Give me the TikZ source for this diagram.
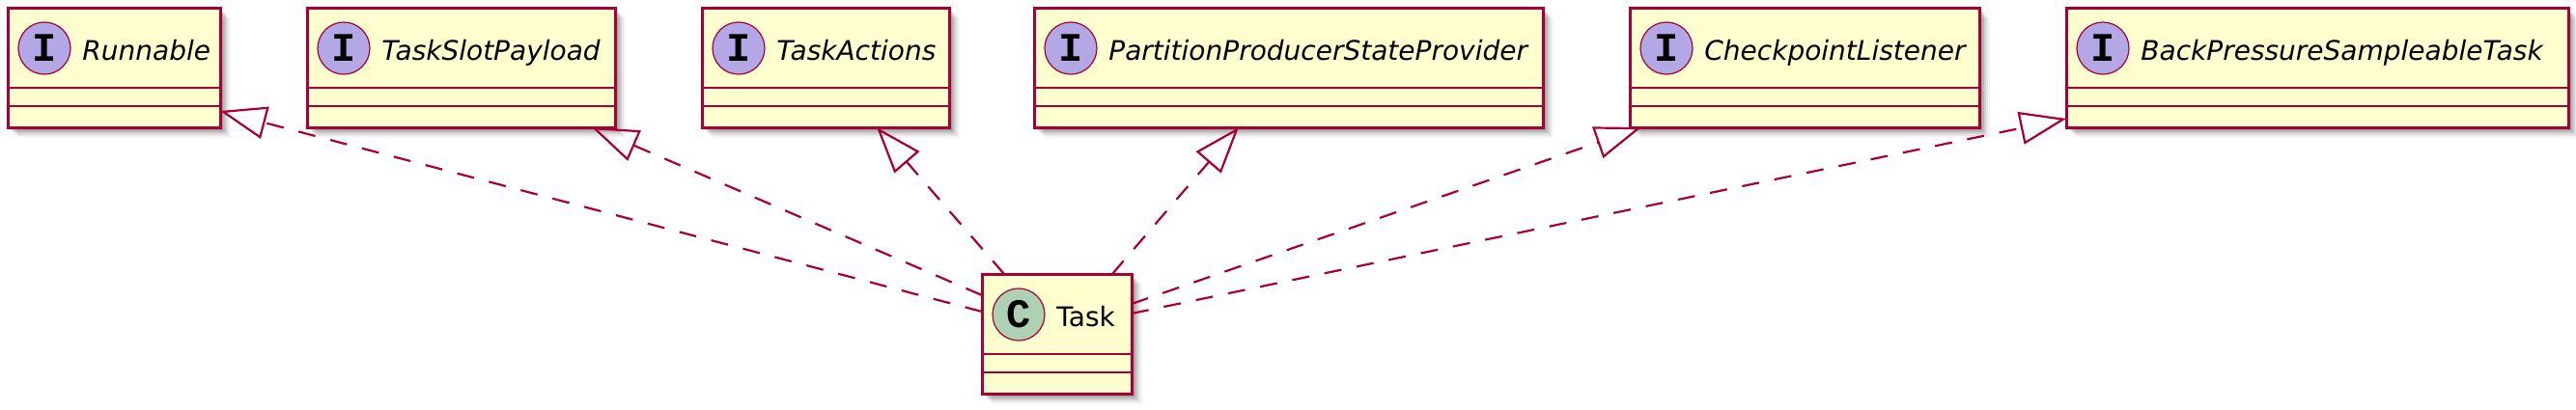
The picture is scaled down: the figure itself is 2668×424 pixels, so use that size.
\documentclass[tikz,border=0pt]{standalone}
\usepackage{fontspec}
\setmainfont{DejaVu Sans}
\newfontfamily\spotfont{Liberation Mono}
\usetikzlibrary{arrows.meta,calc}
\definecolor{umlborder}{RGB}{168,0,54}
\definecolor{umlfill}{RGB}{254,254,206}
\definecolor{ifacespot}{RGB}{180,167,229}
\definecolor{classspot}{RGB}{173,209,178}
\tikzset{
  umlbox/.style={draw=umlborder, fill=umlfill, line width=1.5pt, rectangle, inner sep=0pt, outer sep=0pt},
  sepline/.style={draw=umlborder, line width=1.1pt},
  spot/.style={circle, draw=umlborder, line width=0.6pt, minimum size=27pt, inner sep=0pt,
    font=\spotfont\bfseries\fontsize{21}{21}\selectfont},
  ifacelabel/.style={font=\itshape\fontsize{14}{16}\selectfont, anchor=base west, inner sep=0pt},
  classlabel/.style={font=\fontsize{14}{16}\selectfont, anchor=base west, inner sep=0pt},
  realize/.style={draw=umlborder, line width=1.1pt, dash pattern=on 9pt off 8pt,
    -{Triangle[open, length=24pt, width=17pt]}},
}
% #1 name, #2 left, #3 right, #4 top, #5 letter, #6 spot colour, #7 label style, #8 text
\newcommand\umlclass[8]{%
  \pgfmathsetmacro\ucw{(#3-#2)*0.5}%
  \pgfmathsetmacro\ucx{(#2+#3)/2}%
  \pgfmathsetmacro\ucy{#4+62}%
  \foreach \s/\o in {3/0.14,5/0.12,7/0.09,9/0.06,11/0.04}{%
    \fill[black,opacity=\o] (#2+\s,#4+\s) rectangle (#3+\s,#4+124+\s);}
  \node[umlbox, minimum width=\ucw pt, minimum height=62pt] (#1) at (\ucx,\ucy) {};
  \draw[sepline] ($(#1.north west)+(0,83)$) -- ($(#1.north east)+(0,83)$);
  \draw[sepline] ($(#1.north west)+(0,102)$) -- ($(#1.north east)+(0,102)$);
  \node[spot, fill=#6] (#1-spot) at ($(#1.north west)+(38,42)$) {#5};
  \node[#7] (#1-label) at ($(#1.north west)+(77,54)$) {#8};
}
\begin{document}
\begin{tikzpicture}[x=0.5pt, y=-0.5pt]
\useasboundingbox (0,0) rectangle (2668,424);
\umlclass{runnable}{8}{228}{8}{I}{ifacespot}{ifacelabel}{Runnable}
\umlclass{tsp}{318}{637}{8}{I}{ifacespot}{ifacelabel}{TaskSlotPayload}
\umlclass{ta}{727}{983}{8}{I}{ifacespot}{ifacelabel}{TaskActions}
\umlclass{ppsp}{1071}{1598}{8}{I}{ifacespot}{ifacelabel}{PartitionProducerStateProvider}
\umlclass{cl}{1688}{2050}{8}{I}{ifacespot}{ifacelabel}{CheckpointListener}
\umlclass{bp}{2140}{2660}{8}{I}{ifacespot}{ifacelabel}{BackPressureSampleableTask}
\umlclass{task}{1017}{1172}{284}{C}{classspot}{classlabel}{Task}

\draw[realize] ($(task.north west)+(0,39)$) -- ($(runnable.north east)+(0,107)$);
\draw[realize] ($(task.north west)+(0,22)$) -- ($(tsp.south west)+(295,0)$);
\draw[realize] ($(task.north west)+(23,0)$) -- ($(ta.south west)+(181,0)$);
\draw[realize] ($(task.north west)+(135,0)$) -- ($(ppsp.south west)+(212,0)$);
\draw[realize] ($(task.north east)+(0,31)$) -- ($(cl.south west)+(12,0)$);
\draw[realize] ($(task.north east)+(0,41)$) -- ($(bp.north west)+(0,115)$);
\end{tikzpicture}
\end{document}
